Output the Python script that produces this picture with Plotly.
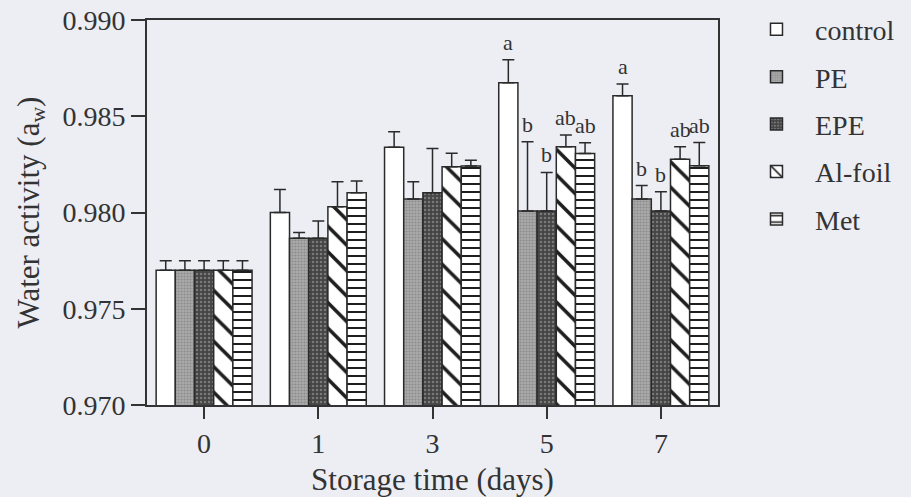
import plotly.graph_objects as go

days = ["0", "1", "3", "5", "7"]
series = ["control", "PE", "EPE", "Al-foil", "Met"]
values = {
    "control": [0.9770, 0.9800, 0.98339, 0.98674, 0.98607],
    "PE":      [0.9770, 0.97866, 0.9807, 0.98008, 0.9807],
    "EPE":     [0.9770, 0.97866, 0.98103, 0.98008, 0.98008],
    "Al-foil": [0.9770, 0.9803, 0.98238, 0.98342, 0.98276],
    "Met":     [0.9770, 0.98103, 0.98242, 0.98307, 0.98243],
}
errors = {
    "control": [0.0005, 0.0012, 0.0008, 0.0012, 0.0006],
    "PE":      [0.0005, 0.0003, 0.0009, 0.0036, 0.0007],
    "EPE":     [0.0005, 0.0009, 0.0023, 0.0020, 0.0010],
    "Al-foil": [0.0005, 0.0013, 0.0007, 0.0006, 0.00066],
    "Met":     [0.0005, 0.0006, 0.0003, 0.00055, 0.0012],
}
letters = {
    "control": ["", "", "", "a", "a"],
    "PE":      ["", "", "", "b", "b"],
    "EPE":     ["", "", "", "b", "b"],
    "Al-foil": ["", "", "", "ab", "ab"],
    "Met":     ["", "", "", "ab", "ab"],
}

styles = {
    "control": dict(color="#ffffff", pattern=dict(shape="")),
    "PE": dict(color="#ababab", pattern=dict(shape=".", fgcolor="#8c8c8c", size=3, solidity=0.4, fgopacity=1)),
    "EPE": dict(color="#454545", pattern=dict(shape=".", fgcolor="#7a7a7a", size=4, solidity=0.3, fgopacity=1)),
    "Al-foil": dict(color="#ffffff", pattern=dict(shape="\\", fgcolor="#1e1e1e", bgcolor="#ffffff", size=18, solidity=0.2, fgopacity=1)),
    "Met": dict(color="#ffffff", pattern=dict(shape="-", fgcolor="#1e1e1e", bgcolor="#ffffff", size=8, solidity=0.25, fgopacity=1)),
}

FONT = "Liberation Serif"
TXT = "#333333"
BG = "#eceef4"
fig = go.Figure()
for i, s in enumerate(series):
    st = styles[s]
    fig.add_trace(go.Bar(
        x=days, y=values[s], name=s, legendgroup=s,
        base=0,
        marker=dict(color=st["color"], pattern=st["pattern"],
                    line=dict(color="#2a2a2a", width=1.5)),
        error_y=dict(type="data", array=errors[s], arrayminus=[0]*len(days),
                     symmetric=False, color="#2a2a2a", thickness=1.5, width=6),
        offsetgroup=str(i),
    ))

# significance letters
n = len(series)
for i, s in enumerate(series):
    for j, d in enumerate(days):
        if letters[s][j]:
            fig.add_annotation(
                x=j + (i - (n - 1) / 2) * (0.84 / n), xref="x",
                y=values[s][j] + errors[s][j], yref="y",
                text=letters[s][j], showarrow=False,
                yanchor="bottom", yshift=3,
                font=dict(family=FONT, size=22, color=TXT),
            )

fig.update_layout(
    width=911, height=497,
    margin=dict(l=147, r=193, t=20, b=92, autoexpand=False),
    paper_bgcolor=BG, plot_bgcolor=BG,
    barmode="group", bargap=0.16, bargroupgap=0,
    font=dict(family=FONT, size=28, color=TXT),
    legend=dict(x=1.035, y=1.04, xanchor="left", yanchor="top",
                font=dict(family=FONT, size=28, color=TXT),
                tracegroupgap=8, bgcolor="rgba(0,0,0,0)", itemwidth=67),
    showlegend=True,
)
fig.update_xaxes(
    type="category", range=[-0.5, 4.5], automargin=False,
    showline=True, linecolor="#333333", linewidth=2, mirror=True,
    ticks="outside", ticklen=12, tickwidth=2, tickcolor="#333333",
    showgrid=False, zeroline=False,
    title=dict(text="Storage time (days)", font=dict(family=FONT, size=31), standoff=12),
    tickfont=dict(family=FONT, size=28),
)
fig.update_yaxes(
    range=[0.970, 0.990], dtick=0.005, tick0=0.970, tickformat=".3f", automargin=False,
    showline=True, linecolor="#333333", linewidth=2, mirror=True,
    ticks="outside", ticklen=14, tickwidth=2, tickcolor="#333333",
    showgrid=False, zeroline=False,
    title=dict(text="Water activity (a<sub>w</sub>)", font=dict(family=FONT, size=31), standoff=14),
    tickfont=dict(family=FONT, size=28),
)

fig.write_html(
    "out.html",
    config={"displayModeBar": False},
    post_script="document.body.style.margin='0';document.body.style.background='%s';" % BG,
)
